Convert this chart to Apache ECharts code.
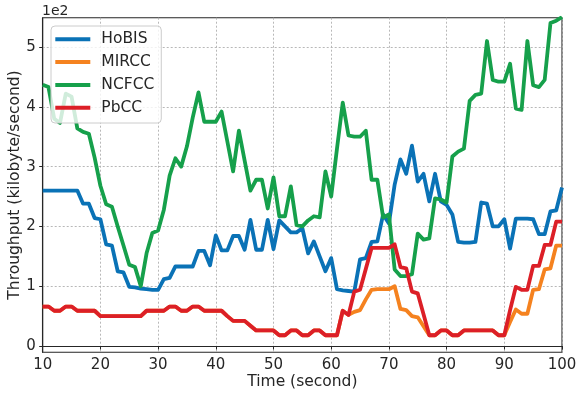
<!DOCTYPE html>
<html>
<head>
<meta charset="utf-8">
<script src="https://cdn.jsdelivr.net/npm/echarts@6/dist/echarts.min.js"></script>
<style>
  html, body { margin: 0; padding: 0; background: #ffffff; }
  #chart { width: 577px; height: 395px; }
</style>
</head>
<body>
<div id="chart"></div>
<script>
// Time stamps (seconds)
const times = [
  10, 11, 12, 13, 14, 15, 16, 17, 18, 19, 20,
  21, 22, 23, 24, 25, 26, 27, 28, 29, 30,
  31, 32, 33, 34, 35, 36, 37, 38, 39, 40,
  41, 42, 43, 44, 45, 46, 47, 48, 49, 50,
  51, 52, 53, 54, 55, 56, 57, 58, 59, 60,
  61, 62, 63, 64, 65, 66, 67, 68, 69, 70,
  71, 72, 73, 74, 75, 76, 77, 78, 79, 80,
  81, 82, 83, 84, 85, 86, 87, 88, 89, 90,
  91, 92, 93, 94, 95, 96, 97, 98, 99, 100
];

// Throughput in units of 1e2 kilobyte/second
const hobis = [
  2.60, 2.60, 2.60, 2.60, 2.60, 2.60, 2.60, 2.38, 2.38, 2.14, 2.12,
  1.70, 1.68, 1.25, 1.23, 0.99, 0.98, 0.96, 0.95, 0.94, 0.94,
  1.12, 1.14, 1.33, 1.33, 1.33, 1.33, 1.59, 1.59, 1.35, 1.85,
  1.60, 1.60, 1.84, 1.84, 1.61, 2.11, 1.61, 1.61, 2.11, 1.62,
  2.10, 2.00, 1.90, 1.90, 1.97, 1.55, 1.75, 1.50, 1.25, 1.47,
  0.95, 0.93, 0.92, 0.91, 1.45, 1.47, 1.74, 1.75, 2.20, 2.05,
  2.70, 3.12, 2.88, 3.35, 2.75, 2.88, 2.42, 2.88, 2.42, 2.36,
  2.20, 1.74, 1.73, 1.73, 1.74, 2.40, 2.38, 2.00, 2.00, 2.12,
  1.63, 2.13, 2.13, 2.13, 2.12, 1.87, 1.87, 2.25, 2.27, 2.65
];

const mircc = [
  0.66, 0.66, 0.59, 0.59, 0.66, 0.66, 0.59, 0.59, 0.59, 0.59, 0.50,
  0.50, 0.50, 0.50, 0.50, 0.50, 0.50, 0.50, 0.59, 0.59, 0.59,
  0.59, 0.66, 0.66, 0.59, 0.59, 0.66, 0.66, 0.59, 0.59, 0.59,
  0.59, 0.50, 0.42, 0.42, 0.42, 0.34, 0.26, 0.26, 0.26, 0.26,
  0.18, 0.18, 0.26, 0.26, 0.18, 0.18, 0.26, 0.26, 0.18, 0.18,
  0.18, 0.59, 0.52, 0.57, 0.60, 0.78, 0.94, 0.95, 0.95, 0.95,
  1.00, 0.62, 0.60, 0.50, 0.48, 0.33, 0.18, 0.18, 0.26, 0.26,
  0.18, 0.18, 0.26, 0.26, 0.26, 0.26, 0.26, 0.26, 0.18, 0.18,
  0.40, 0.61, 0.54, 0.54, 0.94, 0.95, 1.28, 1.30, 1.68, 1.68
];

const ncfcc = [
  4.37, 4.33, 3.80, 3.73, 4.22, 4.17, 3.64, 3.58, 3.55, 3.15, 2.68,
  2.37, 2.33, 2.00, 1.68, 1.36, 1.32, 1.00, 1.55, 1.89, 1.93,
  2.28, 2.85, 3.14, 3.00, 3.34, 3.82, 4.24, 3.75, 3.75, 3.75,
  3.92, 3.42, 2.92, 3.60, 3.10, 2.60, 2.78, 2.78, 2.30, 2.82,
  2.17, 2.17, 2.67, 2.02, 2.00, 2.10, 2.17, 2.15, 2.92, 2.50,
  3.30, 4.07, 3.52, 3.50, 3.50, 3.60, 2.78, 2.78, 2.15, 2.20,
  1.28, 1.17, 1.17, 1.20, 1.88, 1.78, 1.80, 2.47, 2.45, 2.40,
  3.17, 3.25, 3.30, 4.10, 4.20, 4.22, 5.10, 4.45, 4.42, 4.42,
  4.72, 3.97, 3.95, 5.10, 4.36, 4.33, 4.45, 5.40, 5.44, 5.50
];

const pbcc = [
  0.66, 0.66, 0.59, 0.59, 0.66, 0.66, 0.59, 0.59, 0.59, 0.59, 0.50,
  0.50, 0.50, 0.50, 0.50, 0.50, 0.50, 0.50, 0.59, 0.59, 0.59,
  0.59, 0.66, 0.66, 0.59, 0.59, 0.66, 0.66, 0.59, 0.59, 0.59,
  0.59, 0.50, 0.42, 0.42, 0.42, 0.34, 0.26, 0.26, 0.26, 0.26,
  0.18, 0.18, 0.26, 0.26, 0.18, 0.18, 0.26, 0.26, 0.18, 0.18,
  0.18, 0.59, 0.52, 0.91, 0.94, 1.29, 1.64, 1.64, 1.64, 1.64,
  1.70, 1.32, 1.30, 0.91, 0.88, 0.53, 0.18, 0.18, 0.26, 0.26,
  0.18, 0.18, 0.26, 0.26, 0.26, 0.26, 0.26, 0.26, 0.18, 0.18,
  0.60, 0.99, 0.94, 0.94, 1.34, 1.34, 1.69, 1.69, 2.08, 2.08
];

const seriesNames = ['HoBIS', 'MIRCC', 'NCFCC', 'PbCC'];
const seriesValues = [hobis, mircc, ncfcc, pbcc];
const seriesColors = ['#0a72b6', '#f5821f', '#16a04b', '#dc1f27'];

const yTickValues = [0, 1, 2, 3, 4, 5];

const FONT = 'DejaVu Sans';

const chart = echarts.init(document.getElementById('chart'), null, { renderer: 'canvas' });

chart.setOption({
  animation: false,
  backgroundColor: '#ffffff',
  textStyle: { fontFamily: FONT },
  grid: {
    left: 42.7, right: 15, top: 17.7, bottom: 42.7,
    outerBoundsMode: 'none',
    containLabel: false,
    show: true, borderColor: '#262626', borderWidth: 1.1,
    backgroundColor: 'transparent'
  },
  graphic: [{
    type: 'text',
    left: 42, top: 4,
    style: { text: '1e2', fontFamily: FONT, fontSize: 14, fill: '#262626' }
  }],
  legend: {
    orient: 'vertical',
    left: 51, top: 26,
    padding: [4.3, 7, 6.3, 4.3],
    itemGap: 4.8,
    itemWidth: 35, itemHeight: 4,
    icon: 'rect',
    backgroundColor: 'rgba(255,255,255,0.8)',
    borderColor: '#cccccc', borderWidth: 1, borderRadius: 4,
    textStyle: {
      fontFamily: FONT, fontSize: 15.5, color: '#262626',
      lineHeight: 18, padding: [0, 0, 0, 6]
    },
    data: seriesNames
  },
  xAxis: {
    type: 'value',
    min: 10, max: 100, interval: 10,
    name: 'Time (second)',
    nameLocation: 'middle', nameGap: 22,
    nameMoveOverlap: false,
    nameTextStyle: { fontFamily: FONT, fontSize: 15.5, color: '#262626' },
    axisLine: { show: true, lineStyle: { color: '#262626', width: 1.1 } },
    axisTick: { show: true, length: 3.5, lineStyle: { color: '#262626', width: 1 } },
    axisLabel: { fontFamily: FONT, fontSize: 15, color: '#262626', margin: 5 },
    splitLine: { show: true, lineStyle: { color: '#b0b0b0', width: 0.9, type: [2, 2] } }
  },
  yAxis: {
    type: 'value',
    min: -0.105, max: 5.49,
    name: 'Throughput (kilobyte/second)',
    nameLocation: 'middle', nameGap: 20,
    nameMoveOverlap: false,
    nameTextStyle: { fontFamily: FONT, fontSize: 15.5, color: '#262626' },
    axisLine: { show: true, lineStyle: { color: '#262626', width: 1.1 } },
    axisTick: { show: true, length: 3.5, customValues: yTickValues, lineStyle: { color: '#262626', width: 1 } },
    axisLabel: { fontFamily: FONT, fontSize: 15, color: '#262626', margin: 7, customValues: yTickValues },
    splitLine: { show: true, lineStyle: { color: '#b0b0b0', width: 0.9, type: [2, 2] } }
  },
  series: seriesNames.map((name, k) => ({
    name: name,
    type: 'line',
    data: times.map((t, i) => [t, seriesValues[k][i]]),
    showSymbol: false,
    symbol: 'none',
    clip: true,
    color: seriesColors[k],
    lineStyle: { width: 3.8, color: seriesColors[k], join: 'round', cap: 'butt' }
  }))
});
</script>
</body>
</html>
